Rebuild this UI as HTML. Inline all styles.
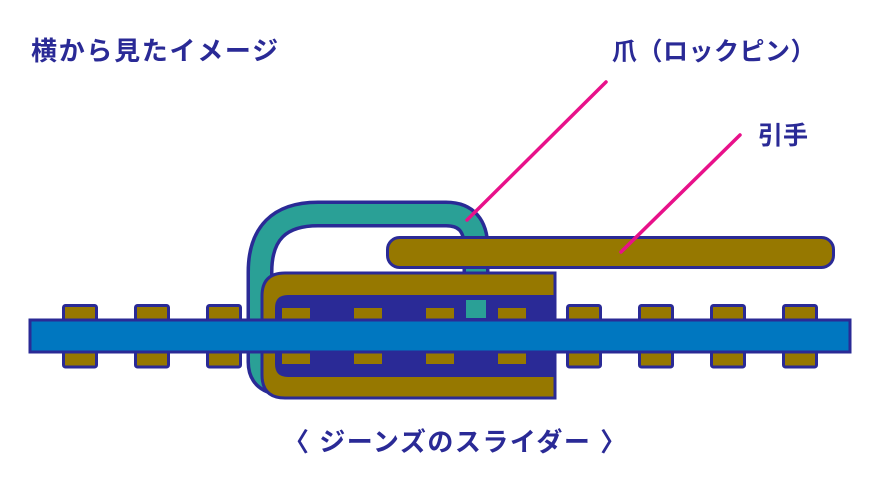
<!DOCTYPE html>
<html><head><meta charset="utf-8"><style>
html,body{margin:0;padding:0;background:#fff;}
body{width:880px;height:504px;overflow:hidden;position:relative;font-family:"Liberation Sans","Noto Sans CJK JP",sans-serif;}
.t{position:absolute;color:#2a2a96;font-weight:bold;white-space:nowrap;line-height:1;}
</style></head><body>
<svg width="880" height="504" style="position:absolute;left:0;top:0">
<!-- teeth -->
<g fill="#967800" stroke="#2a2a96" stroke-width="3">
<rect x="63.5" y="305.5" width="33" height="16" rx="2"/><rect x="63.5" y="351" width="33" height="16" rx="2"/>
<rect x="135.5" y="305.5" width="33" height="16" rx="2"/><rect x="135.5" y="351" width="33" height="16" rx="2"/>
<rect x="207.5" y="305.5" width="33" height="16" rx="2"/><rect x="207.5" y="351" width="33" height="16" rx="2"/>
<rect x="567.5" y="305.5" width="33" height="16" rx="2"/><rect x="567.5" y="351" width="33" height="16" rx="2"/>
<rect x="639.5" y="305.5" width="33" height="16" rx="2"/><rect x="639.5" y="351" width="33" height="16" rx="2"/>
<rect x="711.5" y="305.5" width="33" height="16" rx="2"/><rect x="711.5" y="351" width="33" height="16" rx="2"/>
<rect x="783.5" y="305.5" width="33" height="16" rx="2"/><rect x="783.5" y="351" width="33" height="16" rx="2"/>
</g>
<!-- teal pawl -->
<path d="M285 383 Q260 383 260 362 L260 272 Q260 214 318 214 L446 214 Q476 214 476 248 L476 285" fill="none" stroke="#2a2a96" stroke-width="27" stroke-linejoin="round"/>
<path d="M285 383 Q260 383 260 362 L260 272 Q260 214 318 214 L446 214 Q476 214 476 248 L476 285" fill="none" stroke="#2aa096" stroke-width="20" stroke-linejoin="round"/>
<!-- slider -->
<path d="M555 273 L285 273 Q262 273 262 296 L262 375 Q262 398 285 398 L555 398 Z" fill="#967800" stroke="#2a2a96" stroke-width="3"/>
<path d="M555 295 L288 295 Q275 295 275 308 L275 364 Q275 377 288 377 L555 377 Z" fill="#2a2a96"/>
<g fill="#967800">
<rect x="282" y="308" width="28" height="12"/><rect x="282" y="352" width="28" height="12"/>
<rect x="354" y="308" width="28" height="12"/><rect x="354" y="352" width="28" height="12"/>
<rect x="426" y="308" width="28" height="12"/><rect x="426" y="352" width="28" height="12"/>
<rect x="498" y="308" width="28" height="12"/><rect x="498" y="352" width="28" height="12"/>
</g>
<rect x="466" y="300" width="20" height="18" fill="#2aa096"/>
<!-- tape on top -->
<rect x="30" y="320" width="820" height="32" fill="#0077c0" stroke="#2a2a96" stroke-width="3"/>
<!-- handle -->
<rect x="387.5" y="237.5" width="446" height="30" rx="12" fill="#967800" stroke="#2a2a96" stroke-width="3"/>
<!-- leader lines -->
<line x1="606" y1="82" x2="467" y2="220" stroke="#e8118a" stroke-width="3.5" stroke-linecap="round"/>
<line x1="740" y1="135" x2="621" y2="252" stroke="#e8118a" stroke-width="3.5" stroke-linecap="round"/>
</svg>
<div class="t" style="left:31px;top:38px;font-size:26px;letter-spacing:1.7px;">横から見たイメージ</div>
<div class="t" style="left:612px;top:40px;font-size:25px;letter-spacing:0.5px;">爪（ロックピン）</div>
<div class="t" style="left:758px;top:124px;font-size:25px;">引手</div>
<div class="t" style="left:283px;top:429px;font-size:26px;letter-spacing:1.5px;">〈 ジーンズのスライダー 〉</div>
</body></html>
